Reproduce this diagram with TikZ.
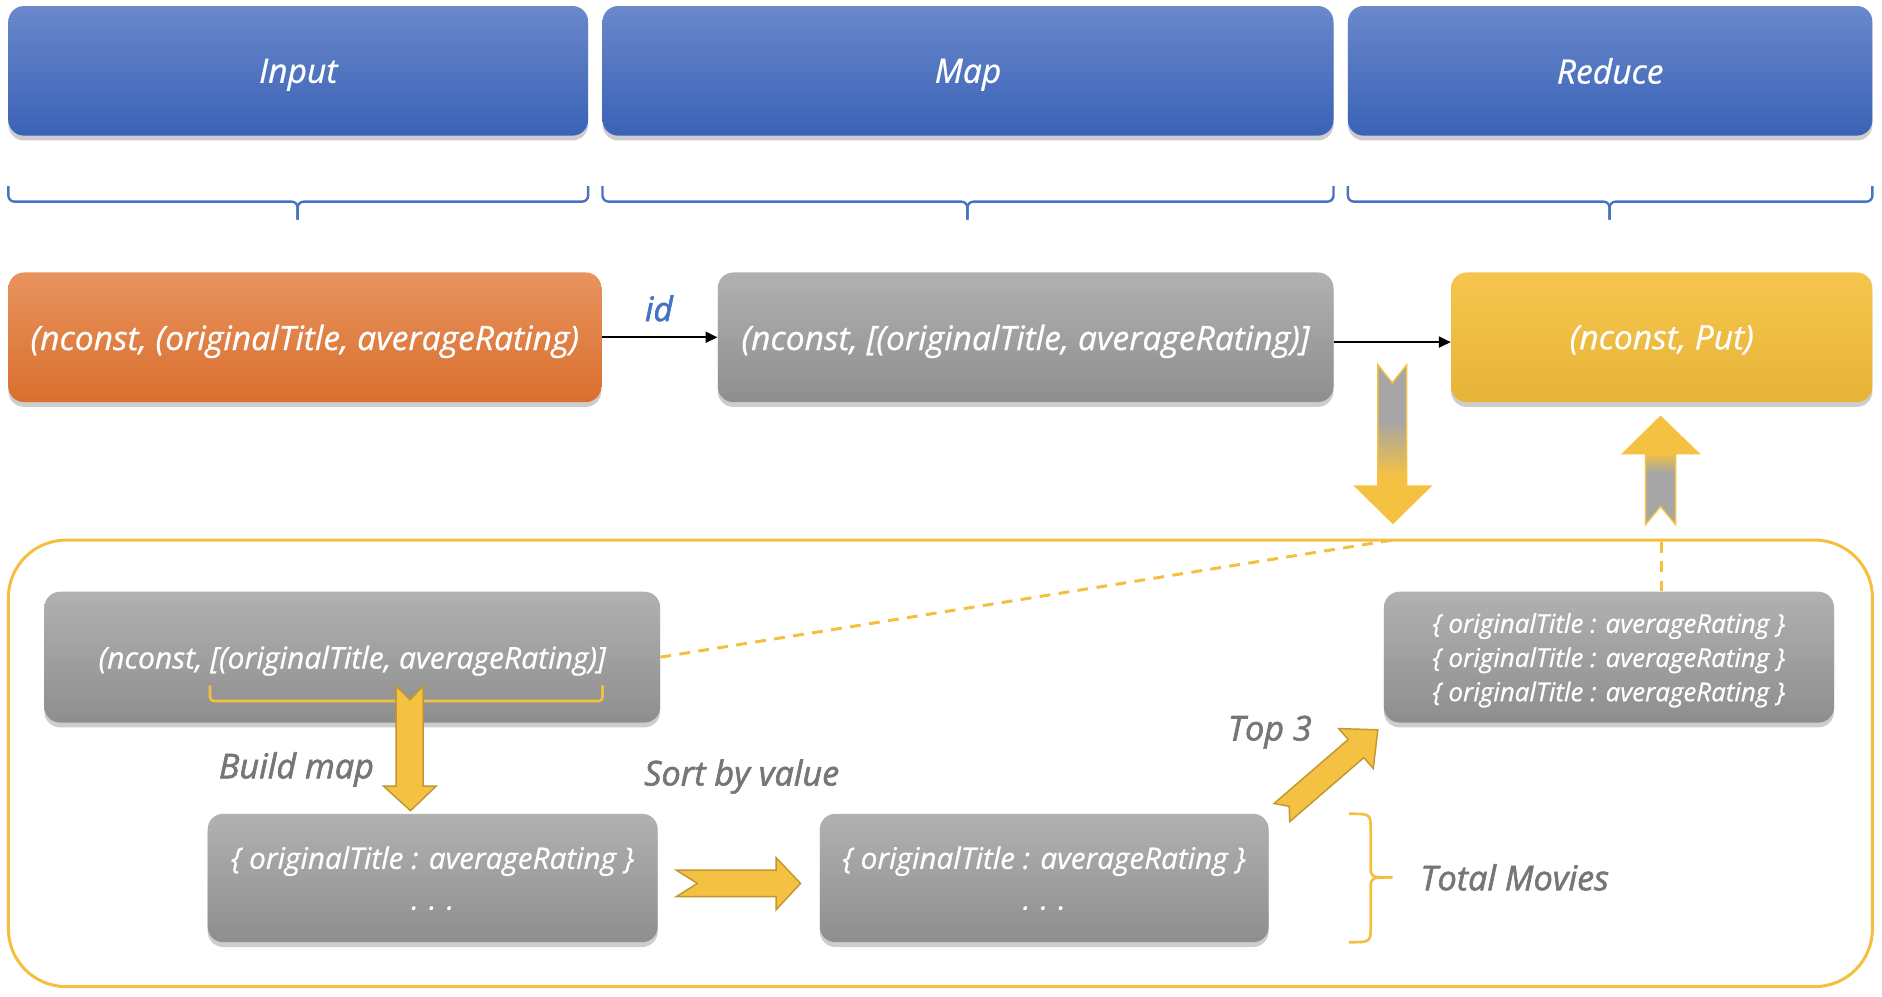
\documentclass[tikz,border=0pt]{standalone}
\usepackage{fontspec}
\setmainfont{Open Sans}[FakeBold=0.7]
\newfontfamily\lblfont{Open Sans}[FakeBold=1.8]
\usetikzlibrary{arrows.meta,shadows}
\definecolor{hdrTop}{HTML}{6A88CB}
\definecolor{hdrBot}{HTML}{3A62B6}
\definecolor{orTop}{HTML}{E8935E}
\definecolor{orBot}{HTML}{D96F2E}
\definecolor{gyTop}{HTML}{B1B1B1}
\definecolor{gyBot}{HTML}{8E8E8E}
\definecolor{ylTop}{HTML}{F6C54D}
\definecolor{ylBot}{HTML}{E6B437}
\definecolor{lineY}{HTML}{F4BF3F}
\definecolor{arrY}{HTML}{F4C142}
\definecolor{arrYd}{HTML}{C0982F}
\definecolor{arrG}{HTML}{A6A6A6}
\definecolor{braceB}{HTML}{4A72C0}
\definecolor{lblG}{HTML}{767676}
\definecolor{idB}{HTML}{4472C4}
\pgfdeclareverticalshading{downshade}{100bp}{color(0bp)=(arrY); color(40bp)=(arrY); color(57bp)=(arrG); color(100bp)=(arrG)}
\pgfdeclareverticalshading{upshade}{100bp}{color(0bp)=(arrG); color(49bp)=(arrG); color(58bp)=(arrY); color(100bp)=(arrY)}
\tikzset{
  box/.style={rounded corners=13pt, inner sep=0pt, text=white, align=center, text depth=0pt,
    font=\itshape\fontsize{28}{32}\selectfont,
    drop shadow={shadow xshift=0pt, shadow yshift=-4pt, opacity=0.28, fill=black!70}},
  hdr/.style={box, top color=hdrTop, bottom color=hdrBot, minimum height=108pt},
  orbox/.style={box, top color=orTop, bottom color=orBot, minimum height=108pt},
  gybox/.style={box, top color=gyTop, bottom color=gyBot},
  ylbox/.style={box, top color=ylTop, bottom color=ylBot, minimum height=108pt},
  bracebl/.style={draw=braceB, line width=2pt, rounded corners=5pt},
  lbl/.style={text=lblG, font=\lblfont\itshape\fontsize{28.5}{32}\selectfont},
  conn/.style={draw=black, line width=2pt, -{Triangle[length=10pt,width=9pt]}},
  blockY/.style={fill=arrY, draw=arrYd, line width=1.2pt},
  dashY/.style={draw=lineY, line width=2.5pt, dash pattern=on 9pt off 7pt},
}
\begin{document}
\begin{tikzpicture}[x=1pt,y=-1pt]
\useasboundingbox (0,0) rectangle (1568,830);
% headers
\node[hdr, minimum width=483pt] (hin) at (248.5,59) {Input};
\node[hdr, minimum width=609pt] (hmap) at (806.5,59) {Map};
\node[hdr, minimum width=437pt] (hred) at (1341.5,59) {Reduce};
% braces
\draw[bracebl] (7,155) -- (7,168) -- (248,168) -- (248,183);
\draw[bracebl] (248,183) -- (248,168) -- (490,168) -- (490,155);
\draw[bracebl] (502,155) -- (502,168) -- (806,168) -- (806,183);
\draw[bracebl] (806,183) -- (806,168) -- (1111,168) -- (1111,155);
\draw[bracebl] (1123,155) -- (1123,168) -- (1341,168) -- (1341,183);
\draw[bracebl] (1341,183) -- (1341,168) -- (1560,168) -- (1560,155);
% middle row
\node[orbox, minimum width=494pt] (inp) at (254,281) {(nconst, (originalTitle, averageRating)};
\node[gybox, minimum width=513pt, minimum height=108pt] (mapo) at (854.5,281) {(nconst, [(originalTitle, averageRating)]};
\node[ylbox, minimum width=351pt] (red) at (1384.5,281) {(nconst, Put)};
\node[text=idB, font=\lblfont\itshape\fontsize{28}{32}\selectfont] (id) at (549,257) {id};
\draw[conn] (inp.east) -- (mapo.west);
\draw[conn] ([yshift=-4pt]mapo.east) -- ([yshift=-4pt]red.west);
% big container
\node[draw=lineY, line width=2.5pt, rounded corners=48pt, minimum width=1553pt, minimum height=372pt, inner sep=0pt] (cont) at (783.5,636) {};
% big arrows
\shade[shading=downshade, draw=arrY, line width=1.2pt] (1148,304) -- (1160,319) -- (1172,304) -- (1172,405) -- (1192,405) -- (1160.5,436) -- (1129,405) -- (1148,405) -- cycle;
\shade[shading=upshade, draw=arrY, line width=1.2pt] (1371,437) -- (1383.5,422) -- (1396,437) -- (1396,378) -- (1415.5,378) -- (1383.5,347) -- (1352,378) -- (1371,378) -- cycle;
% inner boxes
\node[gybox, minimum width=513pt, minimum height=109pt, font=\itshape\fontsize{25}{28}\selectfont] (g2) at (293.5,547.5) {(nconst, [(originalTitle, averageRating)]};
\node[gybox, minimum width=375pt, minimum height=107pt, font=\itshape\fontsize{24.7}{34}\selectfont] (g3) at (360.5,731.5) {\{ originalTitle : averageRating \}\\. . .};
\node[gybox, minimum width=374pt, minimum height=107pt, font=\itshape\fontsize{24.7}{34}\selectfont] (g4) at (870,731.5) {\{ originalTitle : averageRating \}\\. . .};
\node[gybox, minimum width=375pt, minimum height=109pt, font=\itshape\fontsize{21.6}{28.5}\selectfont] (g5) at (1340.5,547.5) {\{ originalTitle : averageRating \}\\\{ originalTitle : averageRating \}\\\{ originalTitle : averageRating \}};
% dashed connectors
\coordinate (dtip) at (1160,450);
\coordinate (utail) at (1384,450);
\draw[dashY] (g2.east) -- (dtip);
\draw[dashY] (g5.north -| utail) -- (utail);
% bracket under text
\draw[draw=lineY, line width=2.2pt, rounded corners=3pt] (175,571) -- (175,584) -- (502,584) -- (502,571);
% yellow block arrows
\draw[blockY] (330,571.6) -- (341.5,583) -- (352.6,571.6) -- (352.6,655) -- (363.4,655) -- (342,675.4) -- (319.5,655) -- (330,655) -- cycle;
\draw[blockY] (563.5,725) -- (646.6,725) -- (646.6,714.5) -- (667,736) -- (646.6,758) -- (646.6,747) -- (563.5,747) -- (581,736) -- cycle;
\begin{scope}[shift={(1068,677)}, rotate=40.8]
\draw[blockY] (0,-10) -- (81.6,-10) -- (81.6,-22) -- (105.6,0) -- (81.6,22) -- (81.6,10) -- (0,10) -- (8,0) -- cycle;
\end{scope}
% right brace
\draw[draw=lineY, line width=2.2pt] (1124,678) .. controls (1142,678) .. (1142,692) -- (1142,722) .. controls (1142,731) .. (1160,731);
\draw[draw=lineY, line width=2.2pt] (1124,785) .. controls (1142,785) .. (1142,771) -- (1142,740) .. controls (1142,731) .. (1160,731);
% labels
\node[lbl] (lbuild) at (247,641) {Build map};
\node[lbl] (lsort) at (618,647) {Sort by value};
\node[lbl] (ltop) at (1058,610) {Top 3};
\node[lbl] (ltot) at (1262,731) {Total Movies};
\end{tikzpicture}
\end{document}
